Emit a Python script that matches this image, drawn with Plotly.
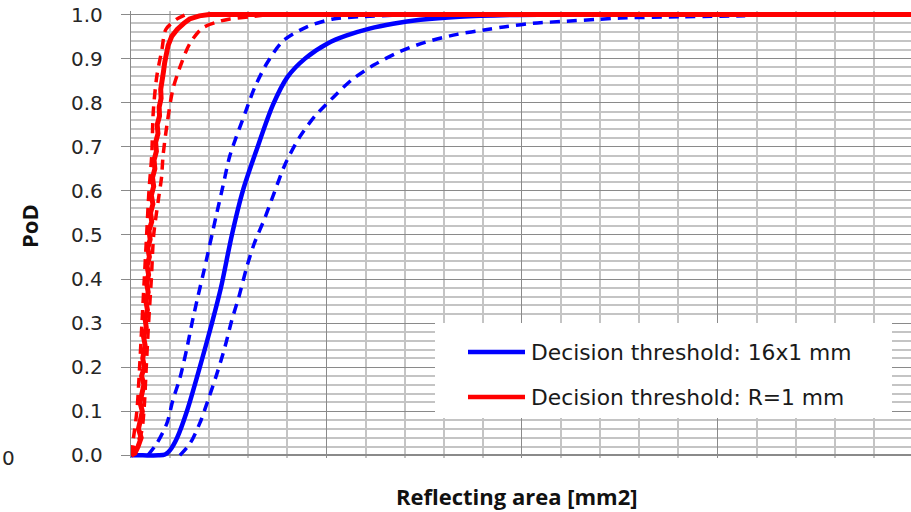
import plotly.graph_objects as go

# Probability of detection (PoD) versus reflecting area [mm2]
# Decision threshold 16x1 mm (blue): estimate with lower / upper bounds
blue_x = [0, 3.0, 7.0, 8.7, 10.0, 11.8, 14.3, 17.6, 20.7, 23.0, 25.8, 28.6, 32.0, 36.3,
          40.0, 44.5, 50.4, 55.0, 61.0, 67.0, 74.0, 84.0, 98.0, 110.0]
blue_pod = [0, 0, 0, 0.002, 0.012, 0.04, 0.10, 0.20, 0.30, 0.38, 0.50, 0.60, 0.69, 0.795,
            0.858, 0.90, 0.935, 0.952, 0.968, 0.979, 0.988, 0.995, 0.999, 1.0]

blue_lo_x = [4.3, 6.6, 9.2, 10.7, 12.5, 14.3, 15.6, 17.1, 18.7, 21.7, 23.5, 25.3,
             29.2, 31.7, 34.8, 38.9, 45.0, 51.7, 58.6, 68.8, 80.0]
blue_lo_pod = [0, 0.027, 0.073, 0.125, 0.175, 0.243, 0.30, 0.36, 0.42, 0.54, 0.61, 0.68,
               0.777, 0.836, 0.89, 0.94, 0.972, 0.99, 0.995, 0.999, 1.0]

blue_hi_x = [12.5, 15.1, 17.6, 19.7, 22.0, 24.0, 25.8, 27.6, 29.7, 31.5, 34.3, 36.6,
             39.4, 43.2, 47.1, 51.7, 56.5, 62.2, 68.8, 75.2, 83.4, 91.1, 96.2, 102.8,
             111.5, 119.2, 125.1, 140.4, 157.1]
blue_hi_pod = [0, 0.027, 0.073, 0.125, 0.186, 0.245, 0.307, 0.36, 0.43, 0.48, 0.54, 0.595,
               0.66, 0.723, 0.77, 0.812, 0.852, 0.886, 0.916, 0.937, 0.955, 0.966, 0.973, 0.980,
               0.985, 0.989, 0.992, 0.995, 0.997]

# Decision threshold R=1 mm (red): estimate with lower / upper bounds
red_x = [0, 1.0, 1.8, 2.6, 1.9, 2.5, 2.9, 2.3, 2.9, 3.3, 2.7, 3.4, 3.0, 3.6, 3.2, 3.9,
         3.6, 4.2, 3.8, 4.4, 4.0, 4.5, 4.1, 4.7, 4.3, 4.9, 4.6, 5.3, 5.0, 5.6, 5.2, 5.8,
         5.5, 6.1, 5.9, 6.5, 6.3, 6.9, 6.7, 7.3, 7.2, 7.7, 7.6, 8.1, 8.3, 8.6, 9.0, 9.5,
         10.4, 11.8, 13.5, 15.0, 17.5, 20.0, 199.5]
red_pod = [0, 0.005, 0.02, 0.04, 0.06, 0.08, 0.10, 0.12, 0.14, 0.16, 0.18, 0.20, 0.22,
           0.25, 0.27, 0.29, 0.31, 0.33, 0.35, 0.37, 0.39, 0.41, 0.43, 0.45, 0.47, 0.49,
           0.51, 0.53, 0.55, 0.57, 0.59, 0.61, 0.63, 0.65, 0.67, 0.69, 0.71, 0.73, 0.75,
           0.77, 0.79, 0.81, 0.83, 0.85, 0.87, 0.89, 0.91, 0.93, 0.95, 0.966, 0.98, 0.99,
           0.997, 1.0, 1.0]

red_lo_x = [0, 1.5, 2.2, 2.8, 3.4, 4.0, 4.6, 5.3, 5.7, 6.6, 7.9, 8.9, 11.8, 14.0]
red_lo_pod = [0, 0.10, 0.20, 0.30, 0.40, 0.50, 0.60, 0.68, 0.78, 0.86, 0.92, 0.966, 0.99, 1.0]

red_hi_x = [0, 2.6, 3.3, 3.9, 4.5, 5.2, 5.8, 7.0, 7.8, 8.2, 9.2, 10.7, 12.5, 15.1, 18.4,
            22.8, 25.3, 30.4, 35.0]
red_hi_pod = [0, 0.05, 0.10, 0.20, 0.30, 0.40, 0.50, 0.58, 0.63, 0.68, 0.75, 0.83, 0.88,
              0.935, 0.97, 0.985, 0.99, 0.995, 1.0]

legend_labels = ["Decision threshold: 16x1 mm", "Decision threshold: R=1 mm"]

BLUE = "#0000ff"
RED = "#ff0000"
DASH = "10px,7px"
SMOOTH = dict(shape="spline", smoothing=0.8)

fig = go.Figure()
fig.add_trace(go.Scatter(x=blue_lo_x, y=blue_lo_pod, mode="lines",
                         line=dict(color=BLUE, width=3.5, dash=DASH, **SMOOTH)))
fig.add_trace(go.Scatter(x=blue_hi_x, y=blue_hi_pod, mode="lines",
                         line=dict(color=BLUE, width=3.5, dash=DASH, **SMOOTH)))
fig.add_trace(go.Scatter(x=blue_x, y=blue_pod, mode="lines",
                         line=dict(color=BLUE, width=4.5, **SMOOTH)))
fig.add_trace(go.Scatter(x=red_lo_x, y=red_lo_pod, mode="lines",
                         line=dict(color=RED, width=3.5, dash=DASH, **SMOOTH)))
fig.add_trace(go.Scatter(x=red_hi_x, y=red_hi_pod, mode="lines",
                         line=dict(color=RED, width=3.5, dash=DASH, **SMOOTH)))
fig.add_trace(go.Scatter(x=red_x, y=red_pod, mode="lines",
                         line=dict(color=RED, width=5)))

MAJOR = "#8a8a8a"
MINOR = "#c4c4c4"
TICKFONT = dict(family="DejaVu Sans", size=20, color="#262626")

fig.update_xaxes(range=[0, 199.5], dtick=50, tick0=0, showticklabels=False,
                 showgrid=True, gridcolor=MAJOR, gridwidth=1.4,
                 minor=dict(dtick=10, showgrid=True, gridcolor=MINOR, gridwidth=1.5),
                 showline=False, zeroline=False, ticks="")
fig.update_yaxes(range=[-0.006, 1.008], dtick=0.1, tick0=0, tickformat=".1f",
                 showgrid=True, gridcolor=MAJOR, gridwidth=1.4,
                 minor=dict(dtick=0.02, showgrid=True, gridcolor=MINOR, gridwidth=1.5),
                 showline=True, linecolor=MAJOR, linewidth=1.4,
                 ticks="outside", ticklen=9, tickcolor=MAJOR, tickwidth=1.4,
                 ticklabelstandoff=14, tickfont=TICKFONT,
                 zeroline=True, zerolinecolor=MAJOR, zerolinewidth=1.6)

# Legend box drawn over the grid
PLOT_L, PLOT_W = 131, 780
PLOT_B, PLOT_H = 458, 447


def px(xp):
    return (xp - PLOT_L) / PLOT_W


def py(yp):
    return (PLOT_B - yp) / PLOT_H


shapes = [dict(type="rect", xref="paper", yref="paper", x0=px(435), x1=px(892),
               y0=py(418), y1=py(323), fillcolor="white", line=dict(width=0), layer="above")]
annotations = []
for label, colour, yp in zip(legend_labels, [BLUE, RED], [352, 397]):
    shapes.append(dict(type="line", xref="paper", yref="paper", x0=px(468), x1=px(525),
                       y0=py(yp), y1=py(yp), line=dict(color=colour, width=4.5), layer="above"))
    annotations.append(dict(xref="paper", yref="paper", x=px(529), y=py(yp), text=label,
                            showarrow=False, xanchor="left", yanchor="middle",
                            font=dict(family="DejaVu Sans", size=21.8, color="#1a1a1a")))

# Axis titles
annotations.append(dict(xref="paper", yref="paper", x=px(517), y=py(496),
                        text="<b>Reflecting area [mm2]</b>", showarrow=False,
                        xanchor="center", yanchor="middle",
                        font=dict(family="Open Sans", size=22, color="#111111")))
annotations.append(dict(xref="paper", yref="paper", x=px(29), y=py(226),
                        text="<b>PoD</b>", showarrow=False, textangle=-90,
                        xanchor="center", yanchor="middle",
                        font=dict(family="Open Sans", size=22, color="#111111")))
annotations.append(dict(xref="paper", yref="paper", x=px(0), y=py(458),
                        text="0", showarrow=False, xanchor="left", yanchor="middle",
                        font=TICKFONT))

fig.update_layout(width=911, height=512, showlegend=False,
                  margin=dict(l=PLOT_L, r=0, t=11, b=512 - PLOT_B, pad=0),
                  paper_bgcolor="white", plot_bgcolor="white",
                  shapes=shapes, annotations=annotations)

fig.write_html("out.html")
